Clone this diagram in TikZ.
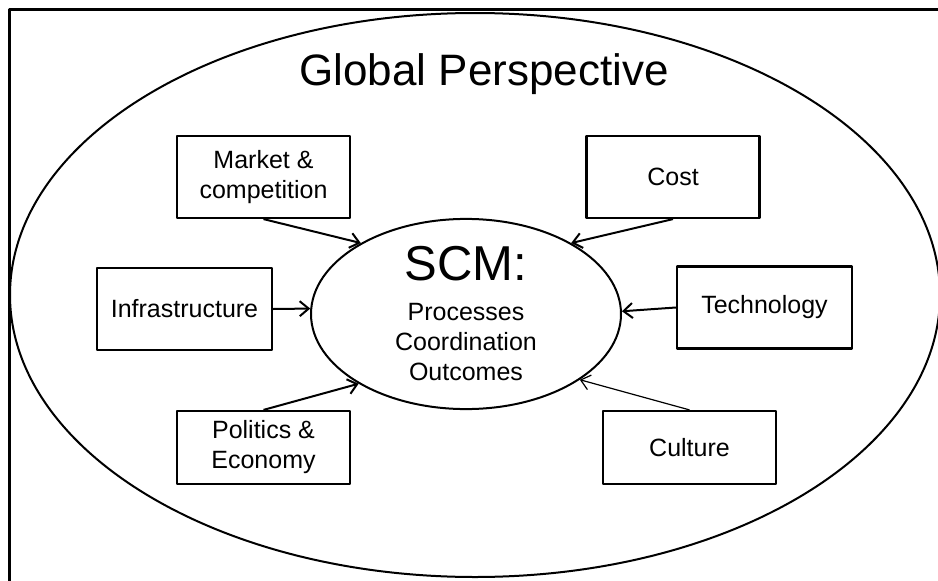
\documentclass[tikz,border=0pt]{standalone}
\usepackage{fontspec}
\setmainfont{Liberation Sans}
\usetikzlibrary{shapes.geometric,arrows.meta}
\tikzset{
	box/.style={draw, line width=2.2, minimum width=173, minimum height=82, inner sep=0, align=center},
	lowbox/.style={box, minimum height=73},
}
\begin{document}
\begin{tikzpicture}[x=1pt, y=-1pt, line join=round, font=\fontsize{25}{30}\selectfont, >={Straight Barb[length=9, width=15]}]
	\useasboundingbox (0,0) rectangle (938,581);
	\path (9,581) coordinate (F1) (9,9) coordinate (F2) (938,9) coordinate (F3);
	\path (475,295) coordinate (O);
	\draw[line width=3] (F1)--(F2)--(F3);
	\draw[line width=2] (O) ellipse [x radius=465, y radius=282];
	\node[anchor=base] (title) at (484,85) {\fontsize{44}{50}\selectfont Global Perspective};
	% centre
	\node[draw, ellipse, line width=2, minimum width=310, minimum height=164, inner sep=0, align=center] (scm) at (466,314)
		{{\fontsize{49}{50}\selectfont SCM:}\\[10pt]Processes\\Coordination\\Outcomes};
	% factors
	\node[box] (mark) at (263.5,177) {Market \&\\competition};
	\node[box] (cost) at (673,177) {Cost};
	\node[box, minimum width=175] (infra) at (184.5,309) {Infrastructure};
	\node[box, minimum width=175] (tech) at (764.5,307.5) {Technology};
	\node[lowbox] (pol) at (263.5,447.5) {Politics \&\\Economy};
	\node[lowbox] (cult) at (689.5,447.5) {Culture};
	\foreach \a/\b in {mark.south/146, cost.south/34, infra.east/178, tech.west/1, pol.north/213}{
		\draw[->, line width=2] (\a)--(scm.\b);
	}
	\draw[->, line width=1.2] (cult.north)--(scm.330);
\end{tikzpicture}
\end{document}
